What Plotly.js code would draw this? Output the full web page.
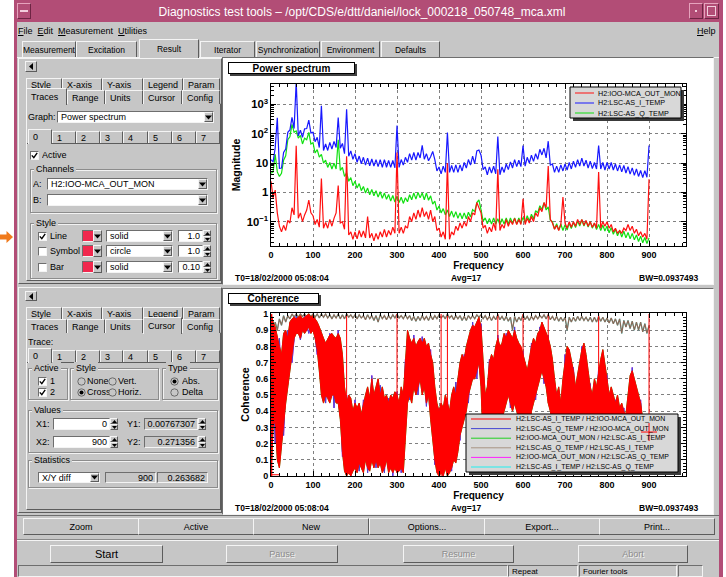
<!DOCTYPE html>
<html><head><meta charset="utf-8">
<script src="https://cdn.plot.ly/plotly-3.0.1.min.js"></script>
<style>
html,body{margin:0;padding:0}
body{width:726px;height:577px;overflow:hidden;background:#fff;position:relative;font-family:"Liberation Sans",Arial,sans-serif;font-size:9px;color:#000}
.a{position:absolute;box-sizing:border-box;white-space:nowrap;overflow:hidden}
.g{background:#c6c6c6}
.r{border:1px solid;border-color:#f4f4f4 #5c5c5c #5c5c5c #f4f4f4;background:#c6c6c6}
.s{border:1px solid;border-color:#6e6e6e #f4f4f4 #f4f4f4 #6e6e6e}
.c{display:flex;align-items:center;justify-content:center}
.l{display:flex;align-items:center}
.w{background:#fff}
.grp{border:1px solid #8c8c8c;box-shadow:1px 1px 0 #f2f2f2, inset 1px 1px 0 #f2f2f2}
.tab{border-left:1px solid #f4f4f4;border-top:1px solid #f4f4f4;border-right:1px solid #5c5c5c;padding-left:4px;display:flex;align-items:center;background:#c6c6c6}
.sel{z-index:2}
.menu span{margin-right:5px}
</style></head>
<body>
<div id="gui"></div>
<div id="ps" class="a" style="left:224px;top:59px;width:487px;height:224px"></div>
<div id="coh" class="a" style="left:224px;top:290px;width:487px;height:223px"></div>
<script>
// ---------------- DATA ----------------
// frequency bins (Hz), 5 Hz grid
const freq = [
0,5,10,15,20,25,30,35,40,45,
50,55,60,65,70,75,80,85,90,95,
100,105,110,115,120,125,130,135,140,145,
150,155,160,165,170,175,180,185,190,195,
200,205,210,215,220,225,230,235,240,245,
250,255,260,265,270,275,280,285,290,295,
300,305,310,315,320,325,330,335,340,345,
350,355,360,365,370,375,380,385,390,395,
400,405,410,415,420,425,430,435,440,445,
450,455,460,465,470,475,480,485,490,495,
500,505,510,515,520,525,530,535,540,545,
550,555,560,565,570,575,580,585,590,595,
600,605,610,615,620,625,630,635,640,645,
650,655,660,665,670,675,680,685,690,695,
700,705,710,715,720,725,730,735,740,745,
750,755,760,765,770,775,780,785,790,795,
800,805,810,815,820,825,830,835,840,845,
850,855,860,865,870,875,880,885,890,895,
900];

// Power spectrum magnitudes
const psRed = [ // H2:IOO-MCA_OUT_MON
2.4,0.65,1.2,0.2,0.07,0.045,0.075,0.05,0.11,0.09,
0.3,0.17,39,0.13,0.2,0.1,0.17,0.25,0.55,0.2,
0.16,0.08,0.12,0.065,3,0.06,0.095,0.06,0.12,0.07,
0.13,0.2,1.7,0.09,0.1,0.055,17,0.035,0.045,0.025,
0.045,0.026,0.05,0.03,0.048,0.028,0.15,0.028,0.04,0.022,
0.04,0.025,0.045,0.03,0.055,0.03,0.05,0.035,0.065,0.04,
23,0.04,0.065,0.04,0.07,0.06,0.15,0.1,0.2,0.12,
0.25,0.14,0.3,0.15,0.22,0.12,0.25,0.1,0.15,0.05,
0.06,0.03,0.045,0.025,10,0.025,0.045,0.035,0.07,0.05,
0.09,0.06,0.1,0.07,0.15,0.1,0.2,0.17,0.45,0.3,
0.2,0.06,0.075,0.04,0.065,0.045,0.09,0.05,6.2,0.05,
0.08,0.06,0.12,0.07,0.11,0.08,0.13,0.08,0.12,0.08,
0.6,0.08,0.13,0.09,0.15,0.1,0.2,0.15,0.3,0.22,
0.45,0.3,8,0.12,0.09,0.055,0.075,0.05,0.08,0.7,
0.09,0.06,0.1,0.065,0.1,0.07,0.12,0.08,0.12,0.075,
0.11,0.07,0.1,0.065,0.09,0.06,5,0.06,0.1,0.07,
0.1,0.06,0.08,0.045,0.06,0.04,0.05,0.04,0.06,0.05,
0.08,0.05,0.07,0.04,0.055,0.033,0.045,0.03,0.04,0.025,
2.8];
const psBlue = [ // H2:LSC-AS_I_TEMP
13,11,33,350,6.6,6.8,23,30,112,135,
363,151,6000,85,132,76,148,151,295,107,
112,54,76,34,900,27,45,27,51,30,
55,34,360,32,47,21,690,17,26,13.5,
21,10.7,17.4,9.5,15.8,8.5,14.8,8.1,13.8,7.9,
13.2,7.6,13.2,7.2,13.2,7.2,12.3,7.1,12.3,6.9,
190,7.1,13.2,8.5,15.8,10.7,21,12.6,23,12.6,
23,15,40,13.5,21,12,16.6,25,13.2,5.4,
7.4,4.3,7.9,4.8,110,4.8,8.3,4.8,8.7,4.8,
8.7,5.4,10.5,6.8,13.2,8.5,17.4,9.5,26,28,
18.6,6,7.4,4,7.4,4.6,7.9,4.3,80,4,
7.4,4.8,9.3,6,11,6.8,13.2,7.6,12.6,7.6,
40,7.9,15.8,10,18.6,11.5,21,13.5,29.5,19,
32,15,56,8.5,9.3,4.8,7.9,4.8,8.7,5.4,
9.3,5.8,10.5,6.3,11.7,7.2,13.2,7.9,14.8,7.9,
12.6,6.8,11.7,6.5,10.5,6.3,40,6.3,10.5,5.8,
10.5,6.3,10.5,5.8,9.3,5.4,8.7,5,8.3,4.6,
7.6,4.2,6.9,3.8,6.3,3.5,5.6,3.2,5.5,3.3,
40];
const psGreen = [ // H2:LSC-AS_Q_TEMP
4.5,5,20,5,3.5,4.5,12.6,17.8,63,79,
209,112,126,71,89,45,71,63,112,45,
50,22,29,16,20,10,12.6,7.1,10.5,6.3,
10,6.3,63,5.6,7.1,3.5,4.7,2.4,3.2,1.7,
2.4,1.4,2.0,1.15,1.6,0.95,1.4,0.83,1.26,0.76,
1.15,0.69,1.05,0.63,0.95,0.58,0.85,0.51,0.78,0.47,
0.74,0.45,0.68,0.42,0.66,0.48,0.83,0.56,0.95,0.59,
1.0,0.66,0.95,0.56,0.95,0.54,0.76,0.4,0.5,0.25,
0.34,0.2,0.28,0.17,0.25,0.15,0.23,0.14,0.22,0.13,
0.2,0.126,0.2,0.126,0.21,0.145,0.26,0.22,0.45,0.55,
0.26,0.105,0.135,0.085,0.13,0.083,0.135,0.083,0.126,0.079,
0.126,0.083,0.135,0.083,0.135,0.089,0.135,0.083,0.135,0.089,
0.14,0.093,0.16,0.105,0.18,0.126,0.24,0.2,0.35,0.26,
0.45,0.25,0.32,0.11,0.1,0.056,0.085,0.052,0.083,0.05,
0.079,0.052,0.089,0.058,0.095,0.063,0.105,0.071,0.117,0.071,
0.107,0.066,0.1,0.06,0.089,0.054,0.081,0.05,0.076,0.048,
0.072,0.042,0.063,0.037,0.055,0.033,0.05,0.03,0.047,0.028,
0.043,0.026,0.04,0.024,0.035,0.021,0.032,0.019,0.029,0.018,
0.028];

// Coherence H2:LSC-AS_I_TEMP / H2:IOO-MCA_OUT_MON : upper and lower edge of the noise band
const cohRedHi = [
1.0,0.95,0.92,0.85,0.8,0.75,0.88,0.9,0.85,0.95,
0.97,0.98,0.97,0.98,0.99,0.97,0.98,0.99,1.0,0.98,
0.99,0.97,0.95,0.92,0.88,0.85,0.82,0.85,0.87,0.88,
0.86,0.85,0.88,0.85,0.75,0.55,0.45,0.5,0.48,0.4,
0.45,0.42,0.45,0.38,0.45,0.5,0.55,0.48,0.6,0.5,
0.55,0.6,0.5,0.55,0.48,0.5,0.45,0.5,0.48,0.52,
0.5,0.45,0.55,0.5,0.7,0.9,0.85,0.82,0.85,0.8,
0.83,0.85,0.82,0.85,0.8,0.82,0.75,0.7,0.55,0.45,
0.4,0.45,0.42,0.5,0.45,0.4,0.5,0.55,0.5,0.6,
0.7,0.75,0.72,0.8,0.85,0.9,0.93,0.92,0.95,0.98,
0.92,0.7,0.5,0.55,0.7,0.75,0.72,0.8,0.85,0.8,
0.82,0.88,0.85,0.9,0.87,0.85,0.9,0.85,0.82,0.8,
0.75,0.7,0.65,0.72,0.8,0.85,0.82,0.88,0.9,0.95,
0.92,0.88,0.85,0.8,0.72,0.6,0.5,0.55,0.45,0.6,
0.72,0.8,0.78,0.72,0.65,0.55,0.62,0.7,0.78,0.82,
0.75,0.65,0.55,0.5,0.6,0.55,0.65,0.72,0.78,0.7,
0.6,0.5,0.55,0.5,0.45,0.5,0.42,0.45,0.4,0.38,
0.5,0.62,0.65,0.6,0.55,0.5,0.45,0.35,0.3,0.25,
0.3];
const cohRedLo = [
0.0,0.3,0.35,0.1,0.05,0.2,0.35,0.45,0.55,0.65,
0.75,0.85,0.88,0.88,0.85,0.9,0.88,0.9,0.92,0.88,
0.9,0.85,0.78,0.65,0.5,0.45,0.5,0.48,0.45,0.5,
0.5,0.45,0.45,0.35,0.15,0.03,0.0,0.02,0.0,0.03,
0.05,0.02,0.08,0.05,0.02,0.1,0.05,0.03,0.1,0.05,
0.1,0.05,0.08,0.02,0.05,0.1,0.02,0.05,0.02,0.05,
0.02,0.03,0.05,0.02,0.25,0.45,0.5,0.45,0.55,0.5,
0.55,0.6,0.5,0.55,0.45,0.5,0.35,0.2,0.1,0.02,
0.0,0.02,0.0,0.05,0.0,0.02,0.05,0.1,0.08,0.15,
0.25,0.3,0.35,0.4,0.5,0.55,0.6,0.6,0.65,0.7,
0.55,0.2,0.05,0.1,0.3,0.35,0.3,0.35,0.4,0.3,
0.35,0.4,0.45,0.5,0.45,0.4,0.45,0.4,0.35,0.35,
0.3,0.25,0.15,0.3,0.4,0.45,0.5,0.55,0.6,0.65,
0.6,0.55,0.45,0.4,0.3,0.2,0.1,0.12,0.05,0.15,
0.3,0.35,0.4,0.3,0.2,0.15,0.2,0.3,0.35,0.4,
0.35,0.25,0.15,0.1,0.2,0.15,0.2,0.3,0.35,0.3,
0.2,0.1,0.15,0.1,0.05,0.1,0.05,0.08,0.05,0.05,
0.15,0.3,0.35,0.3,0.25,0.2,0.15,0.1,0.05,0.05,
0.05];
// Coherence H2:LSC-AS_Q_TEMP / H2:LSC-AS_I_TEMP
const cohBrown = [
0.98,0.88,0.95,0.9,0.97,0.93,0.99,0.95,0.99,0.97,
1.0,0.98,1.0,0.98,1.0,0.985,1.0,0.98,1.0,0.985,
1.0,0.98,1.0,0.975,1.0,0.98,1.0,0.975,0.995,0.97,
0.995,0.975,1.0,0.97,0.995,0.97,1.0,0.98,0.995,0.975,
0.995,0.97,0.995,0.975,0.99,0.965,0.995,0.97,0.99,0.96,
0.99,0.95,0.995,0.97,0.99,0.965,0.99,0.97,0.995,0.975,
1.0,0.975,0.99,0.97,0.995,0.97,0.99,0.96,0.985,0.955,
0.985,0.96,0.99,0.965,0.985,0.96,0.99,0.965,0.99,0.97,
0.995,0.975,0.99,0.97,1.0,0.975,0.99,0.965,0.99,0.97,
0.99,0.96,0.985,0.96,0.99,0.97,0.99,0.97,0.995,0.98,
0.995,0.97,0.99,0.965,0.985,0.96,0.985,0.965,0.995,0.965,
0.985,0.96,0.985,0.955,0.98,0.9,0.985,0.95,0.98,0.96,
0.995,0.965,0.985,0.96,0.985,0.965,0.99,0.97,0.99,0.975,
0.995,0.97,0.995,0.965,0.985,0.96,0.985,0.955,0.98,0.955,
0.98,0.9,0.98,0.95,0.98,0.955,0.985,0.96,0.985,0.96,
0.98,0.955,0.98,0.95,0.98,0.95,0.985,0.955,0.98,0.95,
0.975,0.945,0.975,0.94,0.97,0.93,0.97,0.88,0.96,0.92,
0.96,0.91,0.955,0.9,0.95,0.9,0.95,0.89,0.94,0.88,
0.93];
// Coherence H2:LSC-AS_Q_TEMP / H2:IOO-MCA_OUT_MON (10 Hz grid)
const freq10 = [0,10,20,30,40,50,60,70,80,90,100,110,120,130,140,150,160,170,180,190,200,210,220,230,240,250,260,270,280,290,300,310,320,330,340,350,360,370,380,390,400,410,420,430,440,450,460,470,480,490,500,510,520,530,540,550,560,570,580,590,600,610,620,630,640,650,660,670,680,690,700,710,720,730,740,750,760,770,780,790,800,810,820,830,840,850,860,870,880,890,900];
const cohBlue = [0.9,0.2,0.85,0.25,0.9,0.7,0.99,0.84,0.99,0.88,0.98,0.75,0.88,0.45,0.88,0.42,0.9,0.12,0.5,0.0,0.47,0.03,0.47,0.02,0.62,0.05,0.56,0.02,0.48,0.0,0.52,0.02,0.72,0.47,0.87,0.5,0.86,0.43,0.78,0.07,0.42,0.0,0.48,0.03,0.58,0.22,0.75,0.45,0.95,0.6,0.94,0.03,0.72,0.27,0.87,0.32,0.88,0.42,0.92,0.32,0.77,0.12,0.82,0.47,0.92,0.57,0.87,0.27,0.52,0.03,0.75,0.37,0.67,0.17,0.8,0.32,0.57,0.17,0.67,0.32,0.62,0.12,0.47,0.03,0.42,0.12,0.67,0.22,0.47,0.03,0.32];
// Line-frequency harmonics where the coherence jumps to 1
const cohSpikeFreq = [2,180,300,405,420,540,600,660,780,900];
const cohSpikeLow  = [0,0,0.02,0,0,0.4,0.3,0.45,0.2,0.05];
const cohSpikeHigh = [1,1,1,1,1,1,1,1,1,1];
// Cursor readouts
const cursorX = [0, 900];
const cursorY = [0.00767307, 0.271356];

const psNames = ['H2:IOO-MCA_OUT_MON','H2:LSC-AS_I_TEMP','H2:LSC-AS_Q_TEMP'];
const psColors = ['#ff1010','#1818ff','#10e010'];
const cohNames = ['H2:LSC-AS_I_TEMP / H2:IOO-MCA_OUT_MON','H2:LSC-AS_Q_TEMP / H2:IOO-MCA_OUT_MON','H2:IOO-MCA_OUT_MON / H2:LSC-AS_I_TEMP','H2:LSC-AS_Q_TEMP / H2:LSC-AS_I_TEMP','H2:IOO-MCA_OUT_MON / H2:LSC-AS_Q_TEMP','H2:LSC-AS_I_TEMP / H2:LSC-AS_Q_TEMP'];
const cohColors = ['#ff0000','#4646d2','#20d020','#a89484','#ff20ff','#20f0f0'];
const infoT0 = 'T0=18/02/2000 05:08:04', infoAvg = 'Avg=17', infoBW = 'BW=0.0937493';

// ---------------- GUI ----------------
const G=document.getElementById('gui');
function el(x,y,w,h,cls,html,css){const d=document.createElement('div');d.className='a '+(cls||'');d.style.left=x+'px';d.style.top=y+'px';if(w)d.style.width=w+'px';d.style.height=h+'px';if(css)d.style.cssText+=';'+css;if(html!=null)d.innerHTML=html;G.appendChild(d);return d;}
const CHK='<svg width="7" height="7" viewBox="0 0 7 7"><path d="M0.8 3.4 L2.8 5.6 L6.2 0.8" stroke="#000" stroke-width="1.4" fill="none"/></svg>';
const DN='<svg width="7" height="5" viewBox="0 0 7 5"><path d="M0 0.5 H7 L3.5 4.5Z" fill="#000"/></svg>';
const UPs='<svg width="5" height="3" viewBox="0 0 5 3"><path d="M0 3 H5 L2.5 0Z" fill="#000"/></svg>';
const DNs='<svg width="5" height="3" viewBox="0 0 5 3"><path d="M0 0 H5 L2.5 3Z" fill="#000"/></svg>';
const LEFT='<svg width="4" height="7" viewBox="0 0 4 7"><path d="M4 0 V7 L0 3.5Z" fill="#000"/></svg>';
function radio(x,y,on){el(x,y,9,9,'c',`<svg width="9" height="9" viewBox="0 0 9 9"><circle cx="4.5" cy="4.5" r="3.7" fill="#c6c6c6" stroke="#6a6a6a" stroke-width="1"/>${on?'<circle cx="4.5" cy="4.5" r="2" fill="#000"/>':''}</svg>`);}
function check(x,y,on){el(x,y,9,9,'s w c',on?CHK:'');}
function combo(x,y,w,h,txt){el(x,y,w,h,'s w l',txt,'padding-left:3px');el(x+w-10,y+1,9,h-2,'r c',DN);}
function spin(x,y,w,txt,bg){el(x,y,w,12,'s l',txt,'justify-content:flex-end;padding-right:2px;background:'+(bg||'#fff'));el(x+w,y,8,6,'r c',UPs);el(x+w,y+6,8,6,'r c',DNs);}
function group(x,y,w,h,label){el(x,y,w,h,'grp');el(x+4,y-6,0,11,'g l',label,'padding:0 2px');}
function tabRow(y,h,list,sel,center,fs){list.forEach((t,i)=>{const s=i===sel;el(t[1],s?y-2:y,t[2]-t[1],s?h+3:h,'tab'+(s?' sel':''),t[0],(center?'justify-content:center;padding-left:0;':'')+(fs?'font-size:'+fs+'px':''));});}

// arrow at left edge
el(0,230,14,14,'','<svg width="14" height="14" viewBox="0 0 14 14"><path d="M0 4.5 H6.5 V1 L13 7 L6.5 13 V9.5 H0Z" fill="#f07a1c"/></svg>');
// window frame + title bar
el(14,0,709,577,'','','background:#b24d76');
el(17,3,14,16,'','','border:1px solid;border-color:#e6a3bd #6d2443 #6d2443 #e6a3bd');
el(20,10,8,2,'','','background:#f2cddc');
el(14,1,696,21,'c','Diagnostics test tools – /opt/CDS/e/dtt/daniel/lock_000218_050748_mca.xml','color:#fff;font-size:12px');
el(689,3,14,16,'','','border:1px solid;border-color:#e6a3bd #6d2443 #6d2443 #e6a3bd');
el(695,10,2,2,'','','background:#f2cddc');
el(704,3,15,16,'','','border:1px solid;border-color:#e6a3bd #6d2443 #6d2443 #e6a3bd');
el(707,6,9,10,'','','border:1px solid #f2cddc');
// client area
el(17,22,702,555,'g');
// menu
el(18,23,0,15,'l menu','<span><u>F</u>ile</span><span><u>E</u>dit</span><span><u>M</u>easurement</span><span><u>U</u>tilities</span>');
el(697,23,0,15,'l','<u>H</u>elp');
// main tabs
el(17,57,702,1,'','','background:#f4f4f4');
tabRow(41,16,[['Measurement',22,76],['Excitation',76,137],['Result',139,199],['Iterator',200,255],['Synchronization',256,320],['Environment',321,380],['Defaults',381,440]],2,true,8.5);

const TAB1=[['Style',26,62],['X-axis',62,102],['Y-axis',102,143],['Legend',143,183],['Param',183,220]];
const TAB2=[['Traces',26,67],['Range',67,105],['Units',105,143],['Cursor',143,182],['Config',182,220]];
const TAB3=[['0',28,52],['1',52,76],['2',76,100],['3',100,123],['4',123,148],['5',148,172],['6',172,196],['7',196,220]];

// ---- left top panel
el(18,58,204,226,'r');
el(25,61,12,11,'r c',LEFT);
tabRow(78,12,TAB1,-1);
el(26,103,195,178,'r');
tabRow(90,14,TAB2,0);
el(28,111,0,12,'l','Graph:');
combo(57,111,157,12,'Power spectrum');
el(27,143,193,1,'','','background:#5c5c5c');
tabRow(131,12,TAB3,0);
check(30,151,true);el(42,149,0,12,'l','Active');
group(30,169,187,44,'Channels');
el(33,178,0,12,'l','A:');combo(47,178,161,12,'H2:IOO-MCA_OUT_MON');
el(33,194,0,12,'l','B:');combo(47,194,161,12,'');
group(30,223,187,56,'Style');
[[236,true,'Line','solid','1.0'],[251,false,'Symbol','circle','1.0'],[267,false,'Bar','solid','0.10']].forEach(r=>{
  const y=r[0];check(38,y-4,r[1]);el(50,y-6,0,12,'l',r[2]);
  el(82,y-6,12,12,'s','','background:#f0284e');el(93,y-6,9,12,'r c',DN);
  combo(106,y-6,67,12,r[3]);spin(178,y-6,25,r[4]);
});

// ---- left bottom panel
el(18,287,204,226,'r');
el(25,291,12,10,'r c',LEFT);
tabRow(307,12,TAB1,-1);
el(26,332,195,178,'r');
tabRow(319,14,TAB2,3);
el(28,336,0,12,'l','Trace:');
el(27,362,193,1,'','','background:#5c5c5c');
tabRow(350,12,TAB3,0);
group(28,368,40,32,'Active');
check(38,377,true);el(50,375,0,11,'l','1');check(38,388,true);el(50,386,0,11,'l','2');
group(70,368,89,32,'Style');
radio(77,377,false);el(87,375,0,11,'l','None');radio(108,377,false);el(118,375,0,11,'l','Vert.');
radio(77,388,true);el(87,386,0,11,'l','Cross');radio(108,388,false);el(118,386,0,11,'l','Horiz.');
group(162,368,56,32,'Type');
radio(170,377,true);el(182,375,0,11,'l','Abs.');radio(170,388,false);el(182,386,0,11,'l','Delta');
group(28,410,190,43,'Values');
el(36,418,0,12,'l','X1:');spin(53,418,57,'0');el(127,418,0,12,'l','Y1:');spin(144,418,54,'0.00767307','#c6c6c6');
el(36,436,0,12,'l','X2:');spin(53,436,57,'900');el(127,436,0,12,'l','Y2:');spin(144,436,54,'0.271356','#c6c6c6');
group(28,460,190,28,'Statistics');
combo(38,472,62,11,'X/Y diff');
el(105,472,51,11,'s l','900','justify-content:flex-end;padding-right:2px');
el(157,472,51,11,'s l','0.263682','justify-content:flex-end;padding-right:2px');

// ---- plot frames
el(222,57,492,228,'s w');
el(222,288,492,227,'s w');

// ---- bottom buttons and status
el(17,515,702,1,'','','background:#6e6e6e');
['Zoom','Active','New','Options...','Export...','Print...'].forEach((t,i)=>el(Math.round(23+i*115.2),518,116,17,'r c',t));
el(17,539,702,1,'','','background:#8a8a8a');el(17,540,702,1,'','','background:#f4f4f4');
el(50,545,113,18,'r c','Start','font-size:11px');
const DIS='color:#8c8c8c;text-shadow:1px 1px 0 #f4f4f4';
el(226,545,112,18,'r c','Pause',DIS);el(403,545,111,18,'r c','Resume',DIS);el(578,545,110,18,'r c','Abort',DIS);
el(18,565,490,12,'s');el(508,565,70,12,'s l','Repeat','padding-left:3px;font-size:8px');el(579,565,98,12,'s l','Fourier tools','padding-left:3px;font-size:8px');el(678,565,25,12,'s');

// ---------------- PLOTS ----------------
const SANS='"Liberation Sans",Arial,sans-serif';
const BOLD={family:SANS,size:9,color:'#000',weight:'bold'};
function axis(extra){return Object.assign({showline:true,linecolor:'#000',linewidth:1,mirror:'allticks',ticks:'inside',ticklen:5,tickwidth:1,tickcolor:'#000',showgrid:true,gridcolor:'#808080',griddash:'dot',gridwidth:1,zeroline:false,fixedrange:true,tickfont:BOLD},extra);}
function mapper(L,T,W,H){return {x:X=>(X-L)/W, y:Y=>(T+H-Y)/H};}
const P1=mapper(271,84,415,162), P2=mapper(271,313,415,163);
function titleBox(P,x0,x1,y0,y1,text){
  return {shape:{type:'rect',xref:'paper',yref:'paper',x0:P.x(x0+2),x1:P.x(x1+2),y0:P.y(y0+2),y1:P.y(y1+2),fillcolor:'#404040',line:{width:0},layer:'above'},
    ann:{xref:'paper',yref:'paper',x:P.x(x0),y:P.y(y0),xanchor:'left',yanchor:'top',showarrow:false,text:text,width:x1-x0-2,height:y1-y0-2,borderpad:0,borderwidth:1,bordercolor:'#000',bgcolor:'#fff',font:{family:SANS,size:10,weight:'bold',color:'#000'}}};
}
function infoAnns(P,yc){return [
  {xref:'paper',yref:'paper',x:P.x(233),y:P.y(yc),xanchor:'left',yanchor:'middle',showarrow:false,text:infoT0,font:{family:SANS,size:8.5,weight:'bold',color:'#000'}},
  {xref:'paper',yref:'paper',x:P.x(466),y:P.y(yc),xanchor:'center',yanchor:'middle',showarrow:false,text:infoAvg,font:{family:SANS,size:8.5,weight:'bold',color:'#000'}},
  {xref:'paper',yref:'paper',x:P.x(701),y:P.y(yc),xanchor:'right',yanchor:'middle',showarrow:false,text:infoBW,font:{family:SANS,size:8.5,weight:'bold',color:'#000'}}];}
function legendBox(P,x0,x1,y0,y1,names,colors,yFirst,dy,lx0,lx1,tx,fs){
  const shapes=[{type:'rect',xref:'paper',yref:'paper',x0:P.x(x0+3),x1:P.x(x1+3),y0:P.y(y0+3),y1:P.y(y1+3),fillcolor:'#3a3a3a',line:{width:0},layer:'above'},
    {type:'rect',xref:'paper',yref:'paper',x0:P.x(x0),x1:P.x(x1),y0:P.y(y0),y1:P.y(y1),fillcolor:'#d8d8d8',line:{color:'#000',width:1},layer:'above'}];
  const anns=[];
  names.forEach((n,i)=>{const y=yFirst+dy*i;
    shapes.push({type:'line',xref:'paper',yref:'paper',x0:P.x(lx0),x1:P.x(lx1),y0:P.y(y),y1:P.y(y),line:{color:colors[i],width:1},layer:'above'});
    anns.push({xref:'paper',yref:'paper',x:P.x(tx),y:P.y(y),xanchor:'left',yanchor:'middle',showarrow:false,text:n,font:{family:SANS,size:fs,color:'#000'}});});
  return {shapes,anns};
}
const cfg={staticPlot:true,displayModeBar:false};
const xTitleFont={family:SANS,size:10,weight:'bold',color:'#000'};

// Power spectrum
const t1=titleBox(P1,228,355,62,74,'Power spectrum');
const lg1=legendBox(P1,570,681,87,118,psNames,psColors,93,10,575,594,596,7.2);
const psTraces=[
  {x:freq,y:psGreen,type:'scatter',mode:'lines',name:psNames[2],line:{color:psColors[2],width:1.2},showlegend:false},
  {x:freq,y:psBlue,type:'scatter',mode:'lines',name:psNames[1],line:{color:psColors[1],width:1.2},showlegend:false},
  {x:freq,y:psRed,type:'scatter',mode:'lines',name:psNames[0],line:{color:psColors[0],width:1.2},showlegend:false}];
Plotly.newPlot('ps',psTraces,{
  width:487,height:224,margin:{l:47,r:25,t:25,b:37},paper_bgcolor:'#fff',plot_bgcolor:'#fff',showlegend:false,
  xaxis:axis({range:[0,988],tick0:0,dtick:100,minor:{dtick:20,ticks:'inside',ticklen:3,tickcolor:'#000',showgrid:false},
    title:{text:'Frequency',font:xTitleFont,standoff:3}}),
  yaxis:axis({type:'log',range:[-1.83,3.70],dtick:1,exponentformat:'power',minor:{dtick:'D1',ticks:'inside',ticklen:3,tickcolor:'#000',showgrid:false},
    title:{text:'Magnitude',font:{family:SANS,size:10.5,weight:'bold',color:'#000'},standoff:4}}),
  shapes:[t1.shape].concat(lg1.shapes),
  annotations:[t1.ann].concat(infoAnns(P1,277.5),lg1.anns)
},cfg);

// Coherence
function band(lo,hi,color,name){return [
  {x:freq,y:lo,type:'scatter',mode:'lines',name:name,line:{color:color,width:1},showlegend:false},
  {x:freq,y:hi,type:'scatter',mode:'lines',name:name,fill:'tonexty',fillcolor:color,line:{color:color,width:1},showlegend:false}];}
const spX=[],spY=[];
cohSpikeFreq.forEach((f,i)=>{spX.push(f,f,null);spY.push(cohSpikeLow[i],cohSpikeHigh[i],null);});
const cohTraces=[
  {x:freq,y:cohBrown,type:'scatter',mode:'lines',name:cohNames[5],line:{color:cohColors[5],width:1},showlegend:false},
  {x:freq10,y:cohBlue,type:'scatter',mode:'lines',name:cohNames[4],line:{color:cohColors[4],width:1},showlegend:false},
  {x:freq,y:cohBrown,type:'scatter',mode:'lines',name:cohNames[3],line:{color:'#8c6a58',width:1.3},showlegend:false}]
  .concat(band(cohRedLo,cohRedHi,cohColors[2],cohNames[2]))
  .concat([{x:freq10,y:cohBlue,type:'scatter',mode:'lines',name:cohNames[1],line:{color:cohColors[1],width:1},showlegend:false}])
  .concat(band(cohRedLo,cohRedHi,'#ff0000',cohNames[0]))
  .concat([{x:spX,y:spY,type:'scatter',mode:'lines',name:cohNames[0],line:{color:'#ff0000',width:1},showlegend:false,connectgaps:false}]);
const t2=titleBox(P2,228,319,293,304,'Coherence');
const lg2=legendBox(P2,466,678,414,472,cohNames,cohColors,419,9.6,471,511,514,6.9);
// cursor crosses (positioned by the axis scales from the cursor readouts)
const cursorShapes=[];
cursorX.forEach((cx,i)=>{
  cursorShapes.push({type:'line',xref:'x',yref:'y',xsizemode:'pixel',xanchor:cx,x0:-8,x1:8,y0:cursorY[i],y1:cursorY[i],line:{color:'#ff0000',width:1},layer:'above'});
  cursorShapes.push({type:'line',xref:'x',yref:'y',ysizemode:'pixel',yanchor:cursorY[i],y0:-9,y1:9,x0:cx,x1:cx,line:{color:'#ff0000',width:1},layer:'above'});
});
Plotly.newPlot('coh',cohTraces,{
  width:487,height:223,margin:{l:47,r:25,t:23,b:37},paper_bgcolor:'#fff',plot_bgcolor:'#fff',showlegend:false,
  xaxis:axis({range:[0,988],tick0:0,dtick:100,minor:{dtick:20,ticks:'inside',ticklen:3,tickcolor:'#000',showgrid:false},
    title:{text:'Frequency',font:xTitleFont,standoff:3}}),
  yaxis:axis({range:[0,1.006],tick0:0,dtick:0.1,minor:{dtick:0.02,ticks:'inside',ticklen:3,tickcolor:'#000',showgrid:false},
    title:{text:'Coherence',font:{family:SANS,size:10.5,weight:'bold',color:'#000'},standoff:4}}),
  shapes:[t2.shape].concat(lg2.shapes,cursorShapes),
  annotations:[t2.ann].concat(infoAnns(P2,507.5),lg2.anns)
},cfg);
</script>
</body></html>
